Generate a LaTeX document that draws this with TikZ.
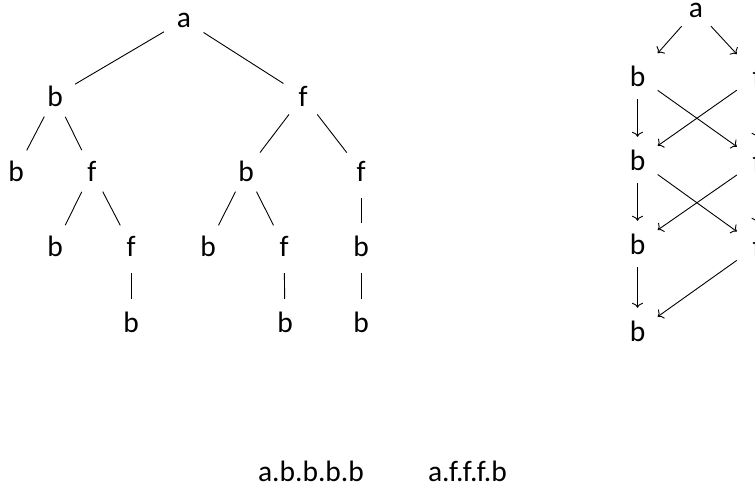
\documentclass[tikz,border=0pt]{standalone}
\usepackage{fontspec}
\setmainfont{Carlito}
\usetikzlibrary{arrows.meta}
\begin{document}
\begin{tikzpicture}[x=1pt,y=-1pt,
  every node/.style={font=\fontsize{29.5}{34}\selectfont},
  tn/.style={circle,minimum size=46pt,inner sep=0pt},
  gn/.style={rectangle,minimum width=40pt,minimum height=46pt,inner sep=0pt},
  edge/.style={line width=0.9pt},
  vedge/.style={line width=0.9pt,shorten <=4pt},
  arr/.style={line width=0.9pt,-{To[length=5pt,width=11pt]}}]
\useasboundingbox (0,0) rectangle (755,485);
\clip (0,0) rectangle (755,485);
% left tree
\node[tn] (a) at (184,20) {a};
\node[tn] (b1) at (55,96) {b};
\node[tn] (f1) at (303,96) {f};
\node[tn] (b2a) at (16,171) {b};
\node[tn] (f2a) at (92,171) {f};
\node[tn] (b2b) at (246,171) {b};
\node[tn] (f2b) at (361,171) {f};
\node[tn] (b3a) at (55,246) {b};
\node[tn] (f3a) at (131,246) {f};
\node[tn] (b3b) at (208,246) {b};
\node[tn] (f3b) at (284,246) {f};
\node[tn] (b3c) at (361,246) {b};
\node[tn] (b4a) at (131,322) {b};
\node[tn] (b4b) at (285,322) {b};
\node[tn] (b4c) at (361,322) {b};
\draw[edge] (a) -- (b1);
\draw[edge] (a) -- (f1);
\draw[edge] (b1) -- (b2a);
\draw[edge] (b1) -- (f2a);
\draw[edge] (f1) -- (b2b);
\draw[edge] (f1) -- (f2b);
\draw[edge] (f2a) -- (b3a);
\draw[edge] (f2a) -- (f3a);
\draw[edge] (b2b) -- (b3b);
\draw[edge] (b2b) -- (f3b);
\draw[vedge] (f2b) -- (b3c);
\draw[vedge] (f3a) -- (b4a);
\draw[vedge] (f3b) -- (b4b);
\draw[vedge] (b3c) -- (b4c);
% right diagram
\node[gn,minimum height=32pt] (ra) at (696,10) {a};
\node[gn] (rb1) at (637.5,76) {b};
\node[gn] (rb2) at (637.5,160) {b};
\node[gn] (rb3) at (637.5,244) {b};
\node[gn] (rb4) at (637.5,331) {b};
\node[gn] (rf1) at (757,76) {f};
\node[gn] (rf2) at (757,161) {f};
\node[gn] (rf3) at (757,246) {f};
\draw[arr] (ra) -- (rb1);
\draw[arr] (ra) -- (rf1);
\draw[arr] (rb1) -- (rb2);
\draw[arr] (rb2) -- (rb3);
\draw[arr] (rb3) -- (rb4);
\draw[arr] (rf1) -- (rf2);
\draw[arr] (rf2) -- (rf3);
\draw[arr] (rb1) -- (rf2);
\draw[arr] (rf1) -- (rb2);
\draw[arr] (rb2) -- (rf3);
\draw[arr] (rf2) -- (rb3);
\draw[arr] (rf3) -- (rb4);
% bottom texts
\node (p1) at (311,471) {a.b.b.b.b};
\node (p2) at (467.5,471) {a.f.f.f.b};
\end{tikzpicture}
\end{document}
